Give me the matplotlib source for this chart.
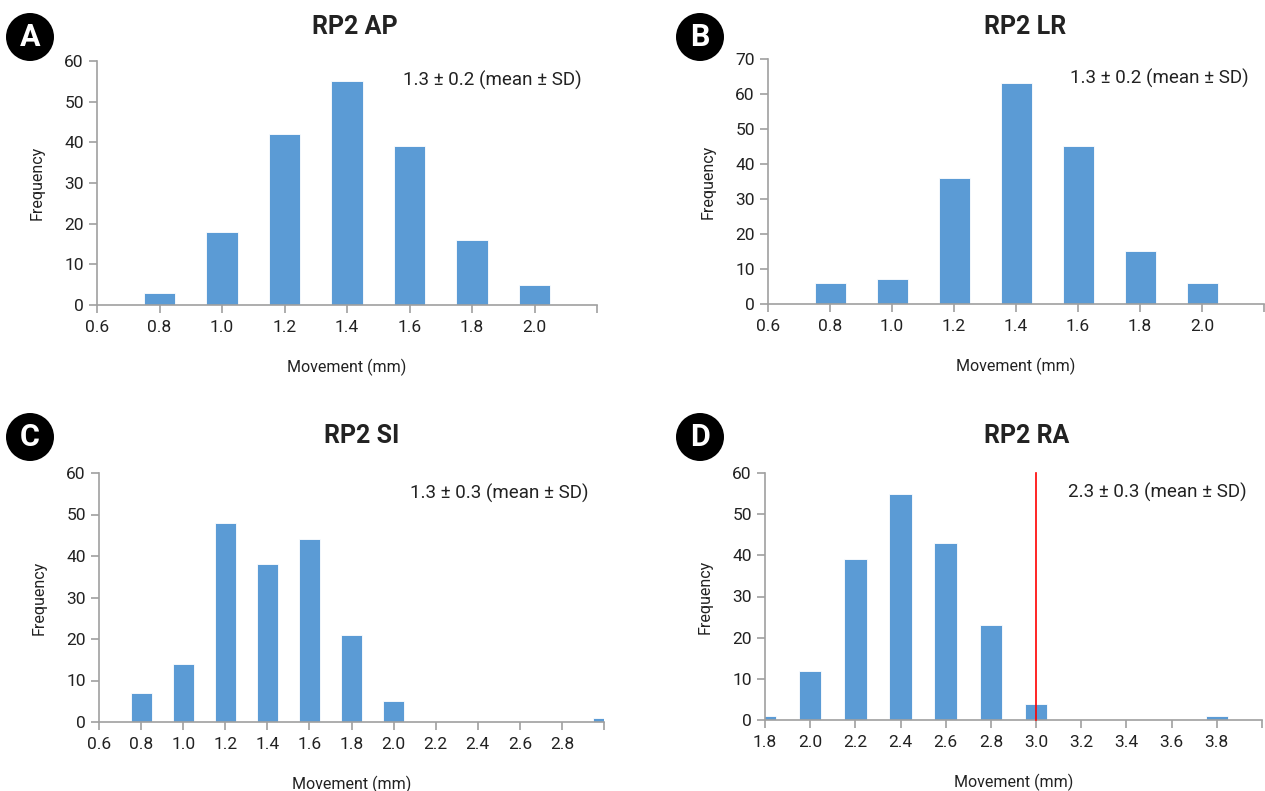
"""
RP2 movement histograms (AP, LR, SI, RA) in a 2x2 layout
"""
import matplotlib
matplotlib.use("Agg")
import matplotlib.pyplot as plt
from matplotlib.patches import Ellipse

plt.rcParams['font.family'] = ['Roboto', 'DejaVu Sans']

# --- data ---
bins_ap = [0.8, 1.0, 1.2, 1.4, 1.6, 1.8, 2.0]
freq_ap = [3, 18, 42, 55, 39, 16, 5]

bins_lr = [0.8, 1.0, 1.2, 1.4, 1.6, 1.8, 2.0]
freq_lr = [6, 7, 36, 63, 45, 15, 6]

bins_si = [0.8, 1.0, 1.2, 1.4, 1.6, 1.8, 2.0, 3.0]
freq_si = [7, 14, 48, 38, 44, 21, 5, 1]

bins_ra = [1.8, 2.0, 2.2, 2.4, 2.6, 2.8, 3.0, 3.8]
freq_ra = [1, 12, 39, 55, 43, 23, 4, 1]

ticks_ab = [0.6, 0.8, 1.0, 1.2, 1.4, 1.6, 1.8, 2.0, 2.2]
ticks_si = [0.6, 0.8, 1.0, 1.2, 1.4, 1.6, 1.8, 2.0, 2.2, 2.4, 2.6, 2.8, 3.0]
ticks_ra = [1.8, 2.0, 2.2, 2.4, 2.6, 2.8, 3.0, 3.2, 3.4, 3.6, 3.8, 4.0]

titles = ["RP2 AP", "RP2 LR", "RP2 SI", "RP2 RA"]
letters = ["A", "B", "C", "D"]
notes = ["1.3 ± 0.2 (mean ± SD)", "1.3 ± 0.2 (mean ± SD)",
         "1.3 ± 0.3 (mean ± SD)", "2.3 ± 0.3 (mean ± SD)"]
ra_threshold = 3.0

BAR = '#5B9BD5'
GREY = '#A0A0A0'
TXT = '#222222'

W, H = 1265, 791
fig = plt.figure(figsize=(W / 100, H / 100), dpi=100)


def px_axes(left, top, right, bottom):
    return fig.add_axes([left / W, 1 - bottom / H, (right - left) / W, (bottom - top) / H])


def draw_panel(ax, bins, freq, ticks, ymax, title, note, letter, badge_xy, title_x, title_y):
    ax.bar(bins, freq, width=0.1, color=BAR, edgecolor='white', linewidth=0.6, zorder=2)
    ax.set_xlim(ticks[0], ticks[-1])
    ax.set_ylim(0, ymax)
    ax.set_xticks(ticks)
    ax.set_xticklabels([f"{t:.1f}" for t in ticks[:-1]] + [""])
    ax.set_yticks(range(0, ymax + 1, 10))
    for s in ['top', 'right']:
        ax.spines[s].set_visible(False)
    for s in ['left', 'bottom']:
        ax.spines[s].set_color(GREY)
        ax.spines[s].set_linewidth(1.2)
    ax.tick_params(axis='both', colors=GREY, labelcolor=TXT, labelsize=12.5,
                   length=6, width=1.2, direction='out')
    ax.tick_params(axis='x', pad=5)
    ax.set_ylabel("Frequency", fontsize=11.5, color=TXT, labelpad=14)
    ax.set_xlabel("Movement (mm)", fontsize=11.5, color=TXT, labelpad=17)
    ax.text(0.97, 0.92, note, transform=ax.transAxes, ha='right', va='center',
            fontsize=13.5, color=TXT)
    fig.text(title_x / W, 1 - title_y / H, title, ha='center', va='center',
             fontsize=18, fontweight='bold', color=TXT)
    bx, by = badge_xy
    fig.patches.append(Ellipse((bx / W, 1 - by / H), 48 / W, 48 / H,
                               transform=fig.transFigure, facecolor='black',
                               edgecolor='none'))
    fig.text(bx / W, 1 - by / H, letter, ha='center', va='center',
             fontsize=22, fontweight='bold', color='white')


ax_a = px_axes(97, 61, 597, 305)
draw_panel(ax_a, bins_ap, freq_ap, ticks_ab, 60, titles[0], notes[0], letters[0],
           (30, 37), 355, 27)

ax_b = px_axes(768, 59, 1264, 304)
draw_panel(ax_b, bins_lr, freq_lr, ticks_ab, 70, titles[1], notes[1], letters[1],
           (700, 37), 1025, 27)

ax_c = px_axes(99, 473, 604, 722)
draw_panel(ax_c, bins_si, freq_si, ticks_si, 60, titles[2], notes[2], letters[2],
           (30, 437), 362, 436)

ax_d = px_axes(765, 473, 1262, 720)
draw_panel(ax_d, bins_ra, freq_ra, ticks_ra, 60, titles[3], notes[3], letters[3],
           (700, 437), 1027, 436)
ax_d.plot([ra_threshold, ra_threshold], [0, 60], color='red', linewidth=1.2,
          zorder=3, clip_on=False)

fig.savefig("out.png", dpi=100)
